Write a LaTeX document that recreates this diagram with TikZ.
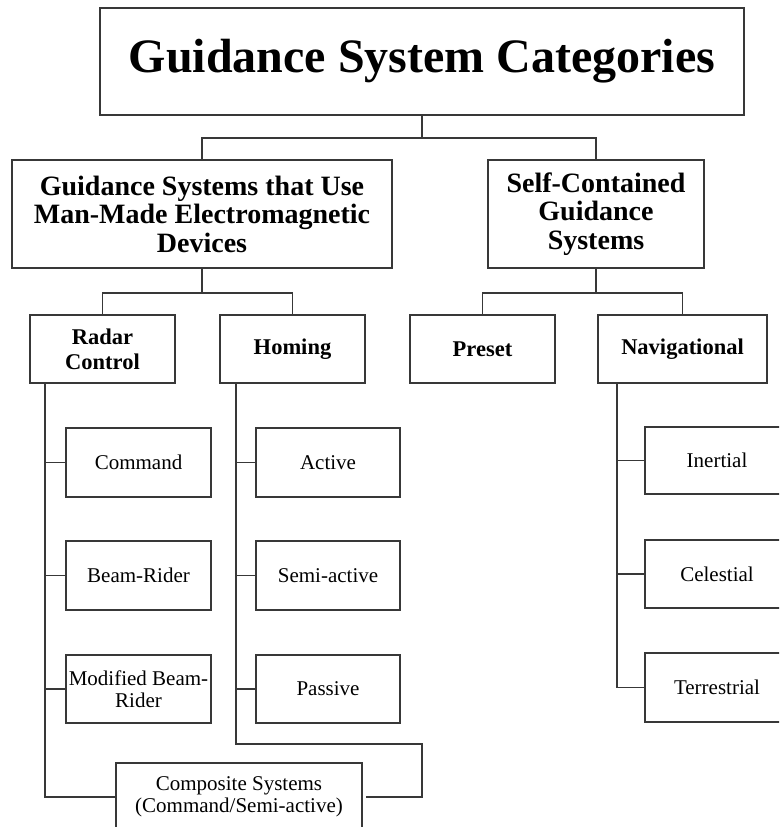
\documentclass[tikz,border=0pt]{standalone}
\usepackage{fontspec}
\setmainfont{Liberation Serif}
\begin{document}
\begin{tikzpicture}[x=1pt,y=-1pt,
  box/.style={draw=black!78, line width=1.2pt, rectangle, inner sep=0pt, outer sep=0pt,
    align=center, anchor=north west, text=black},
  topfont/.style={font=\fontsize{48}{52}\selectfont\bfseries},
  lvlone/.style={font=\fontsize{28}{28.5}\selectfont\bfseries},
  lvltwo/.style={font=\fontsize{22.5}{25}\selectfont\bfseries},
  lvlthree/.style={font=\fontsize{21}{21.5}\selectfont},
  link/.style={draw=black!78, line width=1.2pt}]
\useasboundingbox (0,0) rectangle (779,827);
\clip (0,0) rectangle (779,827);

% root
\node[box, topfont, minimum width=644pt, minimum height=107pt] (title) at (100,8) {Guidance System Categories};

% first level
\node[box, lvlone, minimum width=380pt, minimum height=108pt] (gL) at (12,160)
  {Guidance Systems that Use\\Man-Made Electromagnetic\\Devices};
\node[box, lvlone, minimum width=216pt, minimum height=108pt] (gR) at (488,160)
  {Self-Contained\\Guidance\\Systems};

% second level
\node[box, lvltwo, minimum width=145pt, minimum height=68pt] (radar) at (30,315) {Radar\\Control};
\node[box, lvltwo, minimum width=145pt, minimum height=68pt] (homing) at (220,315) {Homing};
\node[box, lvltwo, minimum width=145pt, minimum height=68pt] (preset) at (410,315) {Preset};
\node[box, lvltwo, minimum width=169pt, minimum height=68pt] (nav) at (598,315) {Navigational};

% third level
\node[box, lvlthree, minimum width=145pt, minimum height=69pt] (command) at (66,428) {Command};
\node[box, lvlthree, minimum width=145pt, minimum height=69pt] (beam) at (66,541) {Beam-Rider};
\node[box, lvlthree, minimum width=145pt, minimum height=68pt] (modbeam) at (66,655) {Modified Beam-\\Rider};
\node[box, lvlthree, minimum width=144pt, minimum height=69pt] (active) at (256,428) {Active};
\node[box, lvlthree, minimum width=144pt, minimum height=69pt] (semi) at (256,541) {Semi-active};
\node[box, lvlthree, minimum width=144pt, minimum height=68pt] (passive) at (256,655) {Passive};
\node[box, lvlthree, minimum width=144pt, minimum height=67pt] (inertial) at (645,427) {Inertial};
\node[box, lvlthree, minimum width=144pt, minimum height=68pt] (celestial) at (645,540) {Celestial};
\node[box, lvlthree, minimum width=144pt, minimum height=69pt] (terr) at (645,653) {Terrestrial};
\node[box, lvlthree, minimum width=246pt, minimum height=68pt] (comp) at (116,763)
  {Composite Systems\\(Command/Semi-active)};

% junction points
\coordinate (j0) at (422,138);
\coordinate (j1) at (202,293);
\coordinate (j2) at (596,293);
\coordinate (rtop) at (45,383);
\coordinate (rbot) at (45,797);
\coordinate (htop) at (236,383);
\coordinate (hbot) at (236,744);
\coordinate (hright) at (422,744);
\coordinate (ntop) at (617,383);

% tree connectors
\draw[link] (title.south) -- (j0);
\draw[link] (gL.north) |- (j0) -| (gR.north);
\draw[link] (gL.south) -- (j1);
\draw[link] (radar.north) |- (j1) -| (homing.north);
\draw[link] (gR.south) -- (j2);
\draw[link] (preset.north) |- (j2) -| (nav.north);

% radar control branch
\draw[link] (rtop) -- (rbot) -- (comp.west);
\draw[link] (command.west) -- (command.west -| rtop);
\draw[link] (beam.west) -- (beam.west -| rtop);
\draw[link] (modbeam.west) -- (modbeam.west -| rtop);

% homing branch
\draw[link] (htop) -- (hbot) -- (hright) |- ([xshift=4pt]comp.east);
\draw[link] (active.west) -- (active.west -| htop);
\draw[link] (semi.west) -- (semi.west -| htop);
\draw[link] (passive.west) -- (passive.west -| htop);

% navigational branch
\draw[link] (ntop) -- (ntop |- terr.west) -- (terr.west);
\draw[link] (inertial.west) -- (inertial.west -| ntop);
\draw[link] (celestial.west) -- (celestial.west -| ntop);
\end{tikzpicture}
\end{document}
